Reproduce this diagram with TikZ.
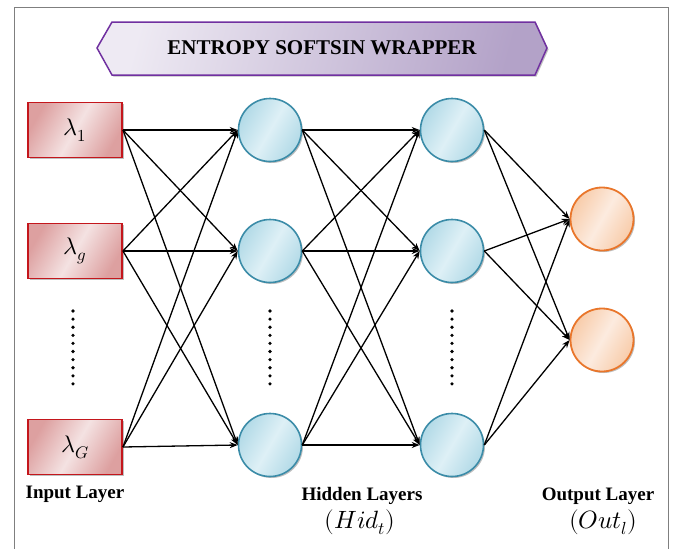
\documentclass[tikz,border=0pt]{standalone}
\usepackage{fontspec}
\usepackage{unicode-math}
\setmainfont{Liberation Serif}
\setmathfont{Latin Modern Math}
\usetikzlibrary{arrows.meta,shadows}
\definecolor{redb}{HTML}{C4161C}
\definecolor{redl}{HTML}{F4E2E2}
\definecolor{redd}{HTML}{DDA0A0}
\definecolor{blueb}{HTML}{3B8CA8}
\definecolor{bluel}{HTML}{DEF0F6}
\definecolor{blued}{HTML}{B2DAE7}
\definecolor{orb}{HTML}{E9762B}
\definecolor{orl}{HTML}{FCEBDF}
\definecolor{ord}{HTML}{F8CCAA}
\definecolor{purb}{HTML}{7030A0}
\definecolor{purl}{HTML}{EEEAF3}
\definecolor{purd}{HTML}{B3A2C8}
\definecolor{framec}{HTML}{7F7F7F}
\tikzset{
  shad/.style={drop shadow={shadow xshift=1.5pt, shadow yshift=-1.5pt, opacity=0.25, fill=black}},
  inbox/.style={shad, draw=redb, line width=1.9pt, minimum width=94pt, minimum height=55pt, inner sep=0pt,
    left color=redd, right color=redd, middle color=redl, shading angle=60,
    font=\fontsize{24}{28}\selectfont},
  hid/.style={shad, circle, draw=blueb, line width=1.6pt, minimum size=63pt, inner sep=0pt,
    left color=blued, right color=blued, middle color=bluel, shading angle=60},
  outn/.style={shad, circle, draw=orb, line width=1.8pt, minimum size=63pt, inner sep=0pt,
    left color=ord, right color=ord, middle color=orl, shading angle=60},
  conn/.style={line width=1.3pt, -{Stealth[length=8pt,width=6pt]}},
  lab/.style={font=\bfseries\fontsize{19}{22}\selectfont, inner sep=0pt},
  mlab/.style={font=\fontsize{25}{28}\selectfont, inner sep=0pt},
  dotc/.style={fill=black, draw=none}
}
\begin{document}
\begin{tikzpicture}[x=1pt,y=-1pt]
\useasboundingbox (0,0) rectangle (681,549);
% frame
\draw[framec, line width=1pt] (14,549) -- (14,7) -- (668,7) -- (668,549);
% banner
\draw[shad, draw=purb, line width=1.5pt, left color=purl, right color=purd, shading angle=75]
  (97,48) -- (112,22) -- (535,22) -- (547,48) -- (535,75) -- (112,75) -- cycle;
\node[inner sep=0pt, font=\bfseries\fontsize{21}{25}\selectfont] (title) at (322,48) {ENTROPY SOFTSIN WRAPPER};
% input nodes
\node[inbox] (i1) at (75,130) {$\lambda_1$};
\node[inbox] (i2) at (75,251) {$\lambda_g$};
\node[inbox] (i3) at (75,447) {$\lambda_G$};
% hidden
\node[hid] (h1) at (270,130) {};
\node[hid] (h2) at (270,251) {};
\node[hid] (h3) at (270,445) {};
\node[hid] (k1) at (452,130) {};
\node[hid] (k2) at (452,251) {};
\node[hid] (k3) at (452,445) {};
% output
\node[outn] (o1) at (602,219) {};
\node[outn] (o2) at (602,340) {};
% connectors
\foreach \a in {i1,i2,i3}{\foreach \b in {h1,h2,h3}{\draw[conn] (\a.east) -- (\b.west);}}
\foreach \a in {h1,h2,h3}{\foreach \b in {k1,k2,k3}{\draw[conn] (\a.east) -- (\b.west);}}
\foreach \a in {k1,k2,k3}{\foreach \b in {o1,o2}{\draw[conn] (\a.east) -- (\b.west);}}
% dots
\foreach \x in {73,270,452}{\foreach \i in {0,...,9}{\fill[dotc] (\x,311+8.1*\i) circle (1.8);}}
% labels
\node[lab] (lin) at (75,494) {Input Layer};
\node[lab] (lhid) at (362,496) {Hidden Layers};
\node[mlab] (lhidm) at (360,522) {$(Hid_t)$};
\node[lab] (lout) at (598,496) {Output Layer};
\node[mlab] (loutm) at (603,522) {$(Out_l)$};
\end{tikzpicture}
\end{document}
